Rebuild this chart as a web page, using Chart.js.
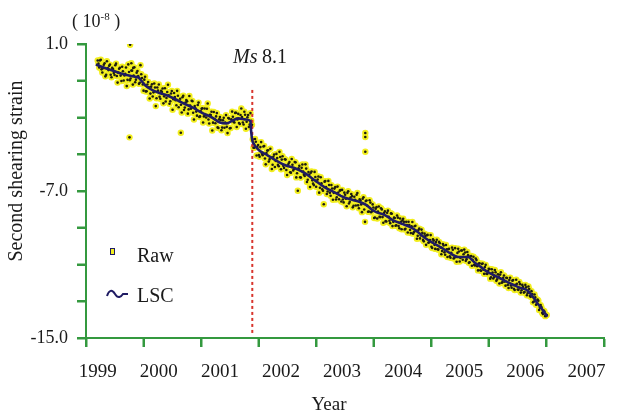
<!DOCTYPE html>
<html><head><meta charset="utf-8">
<script src="https://cdn.jsdelivr.net/npm/chart.js@4/dist/chart.umd.min.js"></script>
<style>html,body{margin:0;padding:0;background:#fff;}canvas{display:block;}</style>
</head><body>
<canvas id="c" width="620" height="413"></canvas>
<script>
// ---------- data ----------
const xTickLabels = [1999, 2000, 2001, 2002, 2003, 2004, 2005, 2006, 2007];
const xTickMarkCount = 10;
const yTickLabels = [1, -7, -15];
const yMin = -15, yMax = 1, yStep = 2;

const quakeYear = 2001.53;
const quakeLineValues = [-1.5, -14.75];

const lscYears = [1998.97,1999.19,1999.34,1999.51,1999.61,1999.67,1999.74,1999.80,1999.88,1999.99,2000.14,2000.28,2000.41,2000.55,2000.70,2000.87,2001.00,2001.11,2001.21,2001.30,2001.43,2001.50,2001.51,2001.53,2001.56,2001.64,2001.75,2001.86,2002.07,2002.23,2002.39,2002.55,2002.71,2002.87,2003.03,2003.19,2003.30,2003.40,2003.48,2003.56,2003.70,2003.83,2003.99,2004.15,2004.26,2004.36,2004.49,2004.63,2004.76,2004.90,2005.06,2005.16,2005.27,2005.38,2005.54,2005.67,2005.80,2005.91,2006.02,2006.10,2006.18,2006.28,2006.36];
const lscValues = [-0.12,-0.39,-0.56,-0.72,-0.78,-0.83,-1.10,-1.32,-1.48,-1.64,-1.80,-2.02,-2.24,-2.45,-2.73,-3.00,-3.27,-3.32,-3.16,-3.05,-3.11,-3.21,-3.70,-4.24,-4.46,-4.78,-5.00,-5.22,-5.60,-5.76,-6.03,-6.41,-6.79,-7.06,-7.34,-7.50,-7.61,-7.77,-7.99,-8.15,-8.31,-8.58,-8.80,-9.02,-9.29,-9.56,-9.83,-10.10,-10.37,-10.59,-10.59,-10.86,-11.13,-11.40,-11.67,-11.89,-12.10,-12.27,-12.38,-12.65,-13.03,-13.46,-13.84];

// raw series A: samples every 0.025 yr from 1999.0
const rawAStartYear = 1999.0, rawStepYear = 0.025;
const rawA1999 = [0.10,-0.28,0.14,-0.55,-0.13,-0.76,0.06,-0.42,-0.12,-0.81,-0.36,-0.69,-0.07,-1.10,-0.35,-0.72,-0.24,-0.99,-0.62,-1.29,-0.11,-0.97,-0.44,-1.21,-0.27,-0.94,-0.47,-1.17,-0.15,-0.85,-1.54,-0.78,-1.57,-1.07,-1.97,-1.32,-1.86,-1.15,-2.38,-1.37];
const rawA2000 = [-1.20,-1.98,-1.61,-2.23,-1.41,-1.94,-1.22,-2.25,-1.69,-2.58,-1.67,-2.06,-1.55,-2.44,-1.98,-2.73,-1.82,-2.46,-2.05,-2.79,-1.83,-2.52,-2.11,-3.11,-2.50,-2.90,-2.19,-2.94,-2.53,-3.27,-2.51,-3.00,-2.24,-3.33,-2.87,-3.71,-2.70,-3.31,-2.76,-3.57];
const rawA2001 = [-2.97,-3.69,-3.15,-3.56,-2.87,-3.85,-3.06,-3.57,-2.68,-3.24,-2.75,-3.52,-2.80,-3.35,-2.51,-3.27,-2.69,-3.61,-2.99,-3.52,-2.76,-3.40,-4.65,-4.17,-5.07,-4.50,-5.13,-4.34,-5.05,-4.55,-5.55,-4.80,-5.40,-4.70,-5.80,-5.14,-5.69,-4.98,-5.58,-4.87];
const rawA2002 = [-5.82,-5.11,-5.75,-5.29,-6.13,-5.51,-5.98,-5.26,-5.88,-5.42,-6.26,-6.99,-5.63,-6.27,-5.56,-6.11,-5.55,-6.51,-5.97,-6.78,-5.94,-6.60,-5.96,-6.77,-6.38,-7.09,-6.25,-6.91,-7.72,-6.46,-7.16,-6.45,-7.09,-6.68,-7.48,-6.87,-7.46,-6.76,-7.45,-6.95];
const rawA2003 = [-6.94,-7.62,-7.20,-7.83,-7.01,-7.59,-7.16,-7.89,-7.31,-7.79,-7.11,-7.94,-7.51,-8.15,-7.34,-8.68,-7.52,-8.13,-7.50,-8.16,-7.73,-8.47,-7.96,-8.50,-7.84,-8.42,-8.00,-8.73,-8.11,-8.66,-8.07,-8.62,-8.22,-8.91,-8.45,-8.89,-8.33,-8.91,-8.50,-9.08];
const rawA2004 = [-8.51,-9.09,-8.68,-9.26,-8.85,-9.29,-8.69,-9.24,-8.89,-9.60,-9.12,-9.58,-9.10,-9.66,-9.32,-9.93,-9.39,-9.79,-9.40,-10.10,-9.70,-10.15,-9.65,-10.19,-9.84,-10.44,-9.89,-10.34,-9.94,-10.59,-10.14,-10.63,-10.08,-10.67,-10.11,-10.85,-10.14,-10.84,-10.24,-10.74];
const rawA2005 = [-10.19,-10.80,-10.32,-10.91,-10.55,-11.07,-10.58,-11.05,-10.76,-11.32,-10.93,-11.34,-10.95,-11.51,-11.02,-11.52,-11.23,-11.77,-11.26,-11.76,-11.30,-11.89,-11.53,-12.03,-11.42,-11.96,-11.60,-12.15,-11.74,-12.28,-11.72,-12.26,-11.85,-12.39,-11.83,-12.36,-11.95,-12.53,-12.11,-12.53];
const rawA2006 = [-12.11,-12.67,-12.20,-12.72,-12.45,-13.06,-12.63,-13.19,-12.91,-13.48,-13.21,-13.63,-13.51,-13.81,-13.75];

// raw series B: samples every 0.025 yr from 1999.0125
const rawBStartYear = 1999.0125;
const rawB1999 = [-0.07,0.10,-0.38,-0.32,-0.05,-0.68,-0.31,-0.19,-0.67,-0.30,-0.58,-0.16,-0.74,-0.56,-0.29,-1.01,-0.48,-0.71,-0.28,-0.95,-0.52,-0.88,-0.45,-0.72,-1.08,-0.56,-0.75,-1.11,-0.65,-1.20,-0.94,-1.58,-1.20,-1.35,-1.70,-1.19,-1.63,-1.37,-1.95,-1.54];
const rawB2000 = [-1.87,-1.55,-1.42,-1.85,-2.13,-1.61,-1.79,-2.12,-1.56,-2.00,-1.89,-2.33,-1.82,-2.11,-2.31,-1.90,-2.59,-2.18,-2.12,-2.56,-2.35,-2.09,-2.74,-2.38,-2.68,-2.32,-2.97,-2.66,-2.50,-2.94,-2.88,-2.52,-3.11,-2.85,-2.69,-3.28,-3.08,-2.94,-3.54,-3.10];
const rawB2001 = [-3.13,-3.55,-3.01,-3.27,-3.51,-3.03,-3.59,-3.10,-2.96,-3.27,-2.74,-3.11,-3.30,-2.86,-2.97,-3.38,-2.85,-3.23,-2.86,-3.39,-3.18,-4.18,-4.64,-4.32,-4.61,-5.04,-4.61,-4.97,-4.58,-5.23,-4.93,-4.78,-5.28,-5.18,-5.57,-5.02,-5.36,-5.21,-5.65,-5.15];
const rawB2002 = [-5.29,-5.63,-5.27,-5.86,-5.60,-5.42,-6.00,-5.57,-5.80,-5.44,-6.03,-5.76,-6.25,-5.74,-5.94,-6.18,-5.78,-6.39,-6.10,-6.01,-6.42,-6.68,-6.24,-6.50,-6.21,-6.82,-6.58,-6.99,-6.49,-6.79,-7.03,-6.67,-7.26,-6.86,-7.10,-6.79,-7.34,-7.08,-6.98,-7.57];
const rawB2003 = [-7.46,-7.09,-7.42,-7.10,-7.68,-7.35,-7.28,-7.80,-7.48,-7.20,-7.78,-7.45,-7.73,-7.42,-8.01,-7.55,-7.80,-8.12,-7.63,-8.10,-7.90,-8.44,-7.88,-8.12,-8.41,-7.94,-8.42,-8.20,-8.64,-8.19,-8.40,-8.75,-8.24,-8.68,-8.47,-8.86,-8.45,-9.03,-8.67,-8.60];
const rawB2004 = [-8.68,-9.06,-8.85,-8.68,-9.12,-8.92,-9.32,-8.92,-9.17,-9.44,-9.05,-9.42,-9.28,-9.74,-9.45,-9.41,-9.82,-9.67,-10.03,-9.63,-9.93,-9.78,-10.17,-9.77,-10.07,-10.27,-9.97,-10.47,-10.17,-10.17,-10.56,-10.36,-10.20,-10.64,-10.58,-10.37,-10.29,-10.64,-10.24,-10.44];
const rawB2005 = [-10.35,-10.71,-10.49,-10.88,-10.54,-10.75,-11.02,-10.68,-11.09,-10.95,-11.31,-10.97,-11.28,-11.14,-11.50,-11.35,-11.25,-11.69,-11.44,-11.68,-11.42,-11.81,-11.66,-11.55,-11.99,-11.73,-11.93,-11.72,-12.11,-11.85,-12.14,-11.88,-12.32,-12.11,-12.05,-12.38,-12.07,-12.40,-12.22,-12.50];
const rawB2006 = [-12.24,-12.56,-12.34,-12.76,-12.61,-13.02,-12.79,-13.15,-12.97,-13.35,-13.32,-13.70,-13.56,-13.76];

// scattered outliers
const rawExtraYears  = [1999.53, 1999.52, 1999.55, 1999.58, 2000.36, 2003.38, 2003.38, 2003.38];
const rawExtraValues = [0.96, -4.08, -0.05, -0.30, -3.83, -3.84, -4.06, -4.86];

// ---------- build ----------
const rawAValues = [].concat(rawA1999, rawA2000, rawA2001, rawA2002, rawA2003, rawA2004, rawA2005, rawA2006);
const rawBValues = [].concat(rawB1999, rawB2000, rawB2001, rawB2002, rawB2003, rawB2004, rawB2005, rawB2006);
const rawPoints = rawAValues.map((v, i) => ({x: rawAStartYear + i * rawStepYear, y: v}))
  .concat(rawBValues.map((v, i) => ({x: rawBStartYear + i * rawStepYear, y: v})))
  .concat(rawExtraYears.map((yr, i) => ({x: yr, y: rawExtraValues[i]})));
const lscPoints = lscYears.map((yr, i) => ({x: yr, y: lscValues[i]}));
const quakePoints = quakeLineValues.map(v => ({x: quakeYear, y: v}));

const GREEN = '#34993f';
const NAVY = '#1f1b63';
const YELLOW = '#f2ee1e';
const TXT = '#1a1a1a';
const SERIF = "'Liberation Serif', 'DejaVu Serif', serif";
const TICK_LEN = 9;

const annot = {
  id: 'annot',
  afterDraw(chart) {
    const c = chart.ctx;
    const area = chart.chartArea;
    c.save();
    c.setLineDash([]);
    c.globalAlpha = 1;
    c.fillStyle = GREEN;
    // axis tick marks, positioned by the library scales
    const ys = chart.scales.y;
    for (let i = 0; i < ys.ticks.length; i++) {
      const py = Math.round(ys.getPixelForTick(i));
      c.fillRect(Math.round(area.left) - TICK_LEN, py - 1, TICK_LEN + 1, 2);
    }
    const xt = chart.scales.xt;
    for (let i = 0; i < xt.ticks.length; i++) {
      const px = Math.round(xt.getPixelForTick(i));
      c.fillRect(px - 1, Math.round(area.bottom) - 1, 2, TICK_LEN + 1);
    }
    c.restore();

    c.save();
    c.fillStyle = TXT;
    c.textBaseline = 'alphabetic';
    c.textAlign = 'left';
    // unit
    c.font = '18px ' + SERIF;
    c.fillText('( 10', 72, 27);
    const w = c.measureText('( 10').width;
    c.font = '11px ' + SERIF;
    c.fillText('-8', 72 + w, 20);
    const w2 = c.measureText('-8').width;
    c.font = '18px ' + SERIF;
    c.fillText(' )', 72 + w + w2, 27);
    // Ms 8.1
    c.font = 'italic 20px ' + SERIF;
    c.fillText('Ms', 233, 63);
    c.font = '20px ' + SERIF;
    c.fillText('8.1', 262, 63);
    // legend
    c.font = '20px ' + SERIF;
    c.fillText('Raw', 137, 262);
    c.fillText('LSC', 137, 302);
    c.fillStyle = YELLOW;
    c.fillRect(110, 248, 4, 6);
    c.strokeStyle = NAVY;
    c.lineWidth = 1;
    c.strokeRect(110.5, 248.5, 4, 6);
    c.beginPath();
    c.lineWidth = 2;
    c.moveTo(107, 296);
    c.bezierCurveTo(109, 290, 112, 289, 115, 294);
    c.bezierCurveTo(118, 299, 121, 297, 123, 294);
    c.lineTo(128, 294);
    c.stroke();
    // y title
    c.fillStyle = TXT;
    c.font = '20px ' + SERIF;
    c.translate(22, 171);
    c.rotate(-Math.PI / 2);
    c.textAlign = 'center';
    c.fillText('Second shearing strain', 0, 0);
    c.restore();
    c.save();
    c.fillStyle = TXT;
    c.font = '19px ' + SERIF;
    c.textAlign = 'center';
    c.fillText('Year', 329, 410);
    c.restore();
  }
};

new Chart(document.getElementById('c').getContext('2d'), {
  type: 'scatter',
  data: {
    datasets: [
      {type: 'line', label: 'LSC', data: lscPoints, borderColor: NAVY, borderWidth: 2.6, pointRadius: 0,
       cubicInterpolationMode: 'monotone', fill: false, order: 0, xAxisID: 'x', yAxisID: 'y'},
      {type: 'line', label: 'Ms 8.1', data: quakePoints, borderColor: '#d8342c', borderWidth: 2, borderDash: [3, 3],
       pointRadius: 0, fill: false, order: 1, xAxisID: 'x', yAxisID: 'y'},
      {label: 'Raw', data: rawPoints, pointRadius: 1.3, backgroundColor: '#1c1c12', borderWidth: 0, order: 2,
       xAxisID: 'x', yAxisID: 'y'},
      {label: 'Raw halo', data: rawPoints, pointRadius: 3.2, backgroundColor: YELLOW, borderWidth: 0, order: 3,
       xAxisID: 'x', yAxisID: 'y'}
    ]
  },
  options: {
    responsive: false,
    animation: false,
    devicePixelRatio: 1,
    layout: {padding: {top: 44, right: 4, left: 0, bottom: 0}},
    plugins: {legend: {display: false}, tooltip: {enabled: false}},
    scales: {
      x: {
        type: 'linear', position: 'bottom', weight: 1,
        min: 1998.808, max: 2007.288,
        grid: {display: false, drawTicks: false},
        border: {display: false},
        ticks: {font: {family: SERIF, size: 19}, color: TXT, padding: 14, maxRotation: 0, autoSkip: false,
                callback: v => String(v)},
        afterBuildTicks: s => { s.ticks = xTickLabels.map(v => ({value: v})); },
        afterFit: s => { s.height = 66; }
      },
      xt: {
        type: 'linear', position: 'bottom', weight: 0,
        min: 0, max: xTickMarkCount - 1,
        ticks: {display: false, stepSize: 1},
        grid: {display: true, drawOnChartArea: false, drawTicks: true, tickLength: TICK_LEN, tickColor: GREEN, tickWidth: 2, color: GREEN},
        border: {color: GREEN, width: 2},
        afterFit: s => { s.height = TICK_LEN; }
      },
      y: {
        type: 'linear', position: 'left',
        min: yMin, max: yMax,
        ticks: {stepSize: yStep, font: {family: SERIF, size: 18}, color: TXT, padding: 9,
                callback: v => yTickLabels.includes(v) ? v.toFixed(1) : ''},
        grid: {display: true, drawOnChartArea: false, drawTicks: true, tickLength: TICK_LEN, tickColor: GREEN, tickWidth: 2, color: GREEN},
        border: {color: GREEN, width: 2},
        afterFit: s => { s.width = 86; }
      }
    }
  },
  plugins: [annot]
});
</script>
</body></html>
